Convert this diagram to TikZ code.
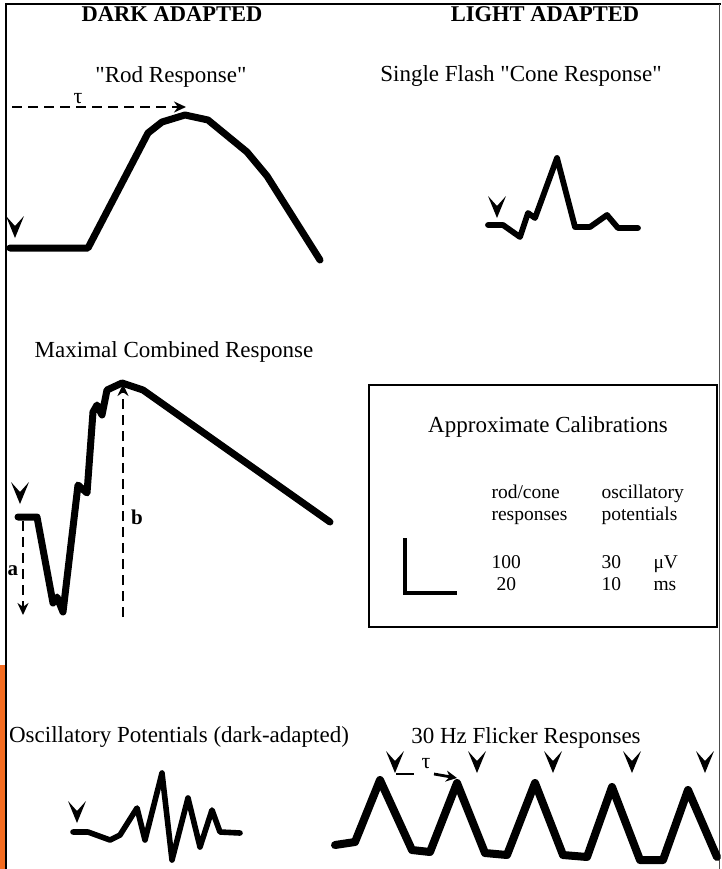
\documentclass[tikz,border=0pt]{standalone}
\usepackage{fontspec}
\setmainfont{Liberation Serif}
\usetikzlibrary{arrows.meta}

\definecolor{tabOrange}{RGB}{245,108,32}

\begin{document}
\begin{tikzpicture}[
    x=1pt, y=-1pt,
    >=Stealth,
    font=\fontsize{23}{25}\selectfont,
    head/.style={font=\fontsize{22.5}{25}\selectfont\bfseries, anchor=base},
    title/.style={anchor=base},
    calib/.style={font=\fontsize{19.5}{21}\selectfont, anchor=base west},
    trace/.style={line width=7pt, line join=round, line cap=round},
    guide/.style={line width=2.2pt, dash pattern=on 10pt off 6pt},
    stim/.pic={\fill (-9,-22) -- (0,-12) -- (9,-22) -- (0,0) -- cycle;}
]
    \useasboundingbox (0,0) rectangle (721,869);

    % Frame
    \fill[tabOrange] (0,665) rectangle (5,869);
    \draw[line width=2.5pt] (6,869) -- (6,4) -- (721,4);
    \draw[line width=1pt, black!70] (719.5,4) -- (719.5,869);

    % Column heads
    \node[head] (darkHead) at (172,22) {DARK ADAPTED};
    \node[head] (lightHead) at (545,22) {LIGHT ADAPTED};

    % Rod response
    \node[title] (rodTitle) at (171,83) {\textquotedbl Rod Response\textquotedbl};
    \coordinate (rodTauA) at (12,107);
    \coordinate (rodTauB) at (186,107);
    \draw[guide, -{Stealth[length=12pt, width=11pt]}] (rodTauA) -- (rodTauB)
        node[pos=0.38, above, inner sep=2pt, font=\fontsize{22}{24}\selectfont] (rodTau) {τ};
    \draw[trace] (10,248) -- (88,248) -- (148,133) -- (162,122) -- (185,115)
        -- (208,120) -- (247,152) -- (267,176) -- (320,260);
    \pic at (15,238) {stim};

    % Cone response
    \node[title] (coneTitle) at (521,82) {Single Flash \textquotedbl Cone Response\textquotedbl};
    \draw[trace, line width=5.8pt] (488,225) -- (503,225) -- (520,237) -- (528,213)
        -- (535,218) -- (557,158) -- (575,227) -- (590,227) -- (607,215)
        -- (618,228) -- (638,228);
    \pic at (497,218) {stim};

    % Maximal combined response
    \node[title] (maxTitle) at (174,357) {Maximal Combined Response};
    \draw[trace] (18,517) -- (37,517) -- (53,603) -- (57,597) -- (63,612)
        -- (78,485) -- (87,493) -- (93,412) -- (97,405) -- (102,415)
        -- (107,390) -- (122,383) -- (143,390) -- (330,522);
    \pic at (20,504) {stim};
    \coordinate (aTop) at (23,521);
    \coordinate (aBot) at (23,615);
    \draw[guide, -{Stealth[length=12pt, width=11pt]}] (aTop) -- (aBot);
    \node[font=\fontsize{21}{23}\selectfont\bfseries] (aLabel) at (13,571) {a};
    \coordinate (bBot) at (123,617);
    \coordinate (bTop) at (123,384);
    \draw[guide, -{Stealth[length=12pt, width=11pt]}] (bBot) -- (bTop);
    \node[font=\fontsize{21}{23}\selectfont\bfseries] (bLabel) at (137,517) {b};

    % Calibration box
    \draw[line width=1.6pt] (369,385) rectangle (717,627);
    \node[title] (calTitle) at (548,432) {Approximate Calibrations};
    \node[calib] (rodCone) at (488,498) {rod/cone};
    \node[calib] (rodConeB) at (488,520) {responses};
    \node[calib] (osc) at (598,498) {oscillatory};
    \node[calib] (oscB) at (598,520) {potentials};
    \node[calib] (volt1) at (488,568) {100};
    \node[calib] (volt2) at (598,568) {30};
    \node[calib] (voltU) at (650,568) {μV};
    \node[calib] (time1) at (493,590) {20};
    \node[calib] (time2) at (598,590) {10};
    \node[calib] (timeU) at (650,590) {ms};
    \draw[line width=4pt] (405,538) -- (405,593) -- (457,593);

    % Oscillatory potentials
    \node[title] (opTitle) at (179,742) {Oscillatory Potentials (dark-adapted)};
    \draw[trace, line width=5.6pt] (73,832) -- (88,832) -- (110,840) -- (120,835)
        -- (137,808) -- (145,840) -- (162,773) -- (172,860) -- (188,798)
        -- (200,847) -- (212,810) -- (220,832) -- (240,833);
    \pic at (77,823) {stim};

    % 30 Hz flicker
    \node[title] (flickTitle) at (526,743) {30 Hz Flicker Responses};
    \draw[trace, line width=8pt] (335,845) -- (355,842) -- (380,780) -- (412,850)
        -- (430,852) -- (457,783) -- (485,853) -- (507,855) -- (535,783)
        -- (563,855) -- (587,857) -- (612,787) -- (640,860) -- (663,860)
        -- (688,790) -- (717,857);
    \foreach \sx in {395,477,553,632,705}
        \pic at (\sx,773) {stim};
    \draw[line width=2.8pt] (396,774) -- (414,774);
    \node[font=\fontsize{22}{24}\selectfont] (flickTau) at (426,764) {τ};
    \coordinate (flickTauA) at (434,774);
    \coordinate (flickTauB) at (457,778);
    \draw[line width=2.8pt, -{Stealth[length=11pt, width=11pt]}] (flickTauA) -- (flickTauB);
\end{tikzpicture}
\end{document}
